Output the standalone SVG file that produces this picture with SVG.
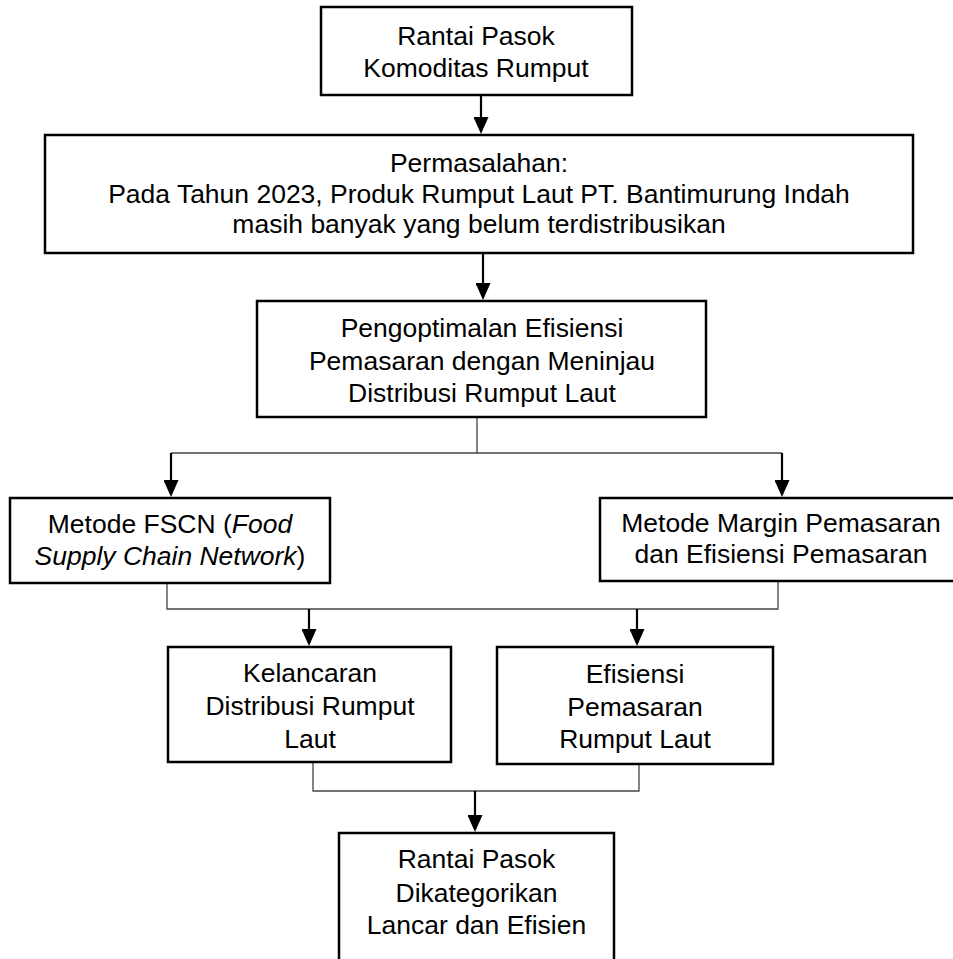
<svg xmlns="http://www.w3.org/2000/svg" width="953" height="959" viewBox="0 0 953 959">
<style>
.box{fill:#fff;stroke:#000;stroke-width:2.5}
.t{font-family:"Liberation Sans",Arial,sans-serif;font-size:25px;fill:#000;text-anchor:middle;transform-box:fill-box;transform-origin:center;transform:scaleX(1.06)}
.i{font-style:italic}
.thin{fill:none;stroke:#444;stroke-width:1.3}
.arr{fill:none;stroke:#000;stroke-width:2.2;marker-end:url(#ah)}
</style>
<defs>
<marker id="ah" markerUnits="userSpaceOnUse" markerWidth="17" markerHeight="15" refX="14" refY="7.5" orient="auto">
<path d="M0,0 L17,7.5 L0,15 z" fill="#000"/>
</marker>
</defs>
<g id="connectors">
<line class="arr" x1="481" y1="96" x2="481" y2="131"/>
<line class="arr" x1="483" y1="254" x2="483" y2="297"/>
<polyline class="thin" points="477,418 477,453 171,453"/>
<line class="thin" x1="477" y1="453" x2="782" y2="453"/>
<line class="arr" x1="171" y1="453" x2="171" y2="494"/>
<line class="arr" x1="782" y1="453" x2="782" y2="494"/>
<polyline class="thin" points="167,584 167,609 778,609 778,582"/>
<line class="arr" x1="309" y1="609" x2="309" y2="643"/>
<line class="arr" x1="637" y1="609" x2="637" y2="643"/>
<polyline class="thin" points="313,763 313,791 639,791 639,765"/>
<line class="arr" x1="475" y1="791" x2="475" y2="829"/>
</g>
<g id="n1">
<rect class="box" x="321" y="7" width="311" height="88"/>
<text class="t" x="476" y="45">Rantai Pasok</text>
<text class="t" x="476" y="77">Komoditas Rumput</text>
</g>
<g id="n2">
<rect class="box" x="45" y="135" width="868" height="118"/>
<text class="t" x="479" y="172">Permasalahan:</text>
<text class="t" x="479" y="203">Pada Tahun 2023, Produk Rumput Laut PT. Bantimurung Indah</text>
<text class="t" x="479" y="233">masih banyak yang belum terdistribusikan</text>
</g>
<g id="n3">
<rect class="box" x="257" y="301" width="449" height="116"/>
<text class="t" x="482" y="337">Pengoptimalan Efisiensi</text>
<text class="t" x="482" y="370">Pemasaran dengan Meninjau</text>
<text class="t" x="482" y="402">Distribusi Rumput Laut</text>
</g>
<g id="n4">
<rect class="box" x="10" y="498" width="320" height="85"/>
<text class="t" x="170" y="533">Metode FSCN (<tspan class="i">Food</tspan></text>
<text class="t" x="170" y="565"><tspan class="i">Supply Chain Network</tspan>)</text>
</g>
<g id="n5">
<rect class="box" x="600" y="498" width="362" height="83"/>
<text class="t" x="781" y="532">Metode Margin Pemasaran</text>
<text class="t" x="781" y="563">dan Efisiensi Pemasaran</text>
</g>
<g id="n6">
<rect class="box" x="168" y="647" width="283" height="115"/>
<text class="t" x="310" y="682">Kelancaran</text>
<text class="t" x="310" y="715">Distribusi Rumput</text>
<text class="t" x="310" y="748">Laut</text>
</g>
<g id="n7">
<rect class="box" x="497" y="647" width="276" height="117"/>
<text class="t" x="635" y="683">Efisiensi</text>
<text class="t" x="635" y="716">Pemasaran</text>
<text class="t" x="635" y="748">Rumput Laut</text>
</g>
<g id="n8">
<rect class="box" x="339" y="833" width="275" height="132"/>
<text class="t" x="476.5" y="868">Rantai Pasok</text>
<text class="t" x="476.5" y="902">Dikategorikan</text>
<text class="t" x="476.5" y="934">Lancar dan Efisien</text>
</g>
</svg>
